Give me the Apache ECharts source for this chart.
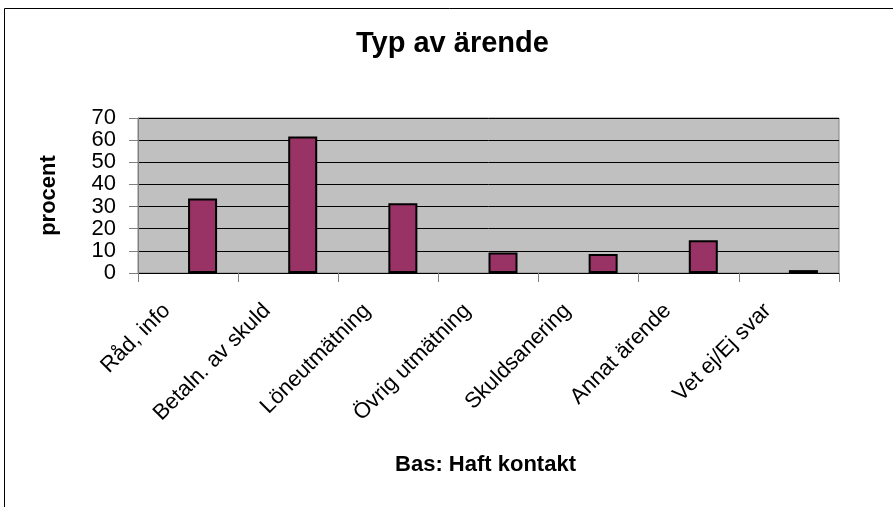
<!DOCTYPE html>
<html>
<head>
<meta charset="utf-8">
<script src="https://cdn.jsdelivr.net/npm/echarts@6/dist/echarts.min.js"></script>
<style>
  html, body { margin: 0; padding: 0; background: #fff; }
  #chart { width: 893px; height: 507px; }
</style>
</head>
<body>
<div id="chart"></div>
<script>
// Typ av ärende, procent (Bas: Haft kontakt)
const categories = ['Råd, info', 'Betaln. av skuld', 'Löneutmätning', 'Övrig utmätning', 'Skuldsanering', 'Annat ärende', 'Vet ej/Ej svar']
const procent = [33.6, 61.7, 31.5, 9.3, 8.6, 14.8, 1.3]
// tom serie, håller första platsen i varje grupp (som i originalet)
const tom = ['-', '-', '-', '-', '-', '-', '-']
const yTicks = { min: 0, max: 70, interval: 10 }

const font = 'Liberation Sans, Arial, sans-serif'
const chart = echarts.init(document.getElementById('chart'))

const option = {
  backgroundColor: '#fff',
  animation: false,
  title: {
    text: 'Typ av ärende',
    left: 351,
    top: 24,
    textStyle: { fontFamily: font, fontSize: 29, fontWeight: 'bold', color: '#000' }
  },
  graphic: [
    {
      type: 'rect',
      shape: { x: 4.5, y: 8.5, width: 1000, height: 1000 },
      style: { fill: 'none', stroke: '#000', lineWidth: 1 },
      silent: true
    }
  ],
  grid: {
    left: 138,
    right: 54,
    top: 118,
    bottom: 234,
    show: true,
    backgroundColor: '#c0c0c0',
    borderColor: '#808080',
    borderWidth: 1
  },
  xAxis: {
    type: 'category',
    data: categories,
    name: 'Bas: Haft kontakt',
    nameLocation: 'middle',
    nameGap: 181,
    nameTextStyle: { fontFamily: font, fontSize: 22, fontWeight: 'bold', color: '#000', padding: [0, 6, 0, 0] },
    axisLine: { lineStyle: { color: '#000', width: 1 } },
    axisTick: { show: true, length: 9, lineStyle: { color: '#808080' } },
    axisLabel: {
      interval: 0,
      rotate: 45,
      margin: 13,
      padding: [0, 30, 0, 0],
      fontFamily: font,
      fontSize: 22,
      color: '#000'
    }
  },
  yAxis: {
    type: 'value',
    min: yTicks.min,
    max: yTicks.max,
    interval: yTicks.interval,
    name: 'procent',
    nameLocation: 'middle',
    nameRotate: 90,
    nameGap: 78,
    nameTextStyle: { fontFamily: font, fontSize: 22, fontWeight: 'bold', color: '#000' },
    axisLine: { show: true, lineStyle: { color: '#808080' } },
    axisTick: { show: true, length: 9, lineStyle: { color: '#808080' } },
    axisLabel: { margin: 22, fontFamily: font, fontSize: 22, color: '#000' },
    splitLine: { show: true, lineStyle: { color: '#000', width: 1 } }
  },
  series: [
    {
      name: 'tom',
      type: 'bar',
      data: tom,
      barWidth: 29,
      barGap: '0%'
    },
    {
      name: 'procent',
      type: 'bar',
      data: procent,
      barWidth: 29,
      barGap: '0%',
      itemStyle: { color: '#993366', borderColor: '#000', borderWidth: 2 }
    }
  ]
}
chart.setOption(option)
</script>
</body>
</html>
